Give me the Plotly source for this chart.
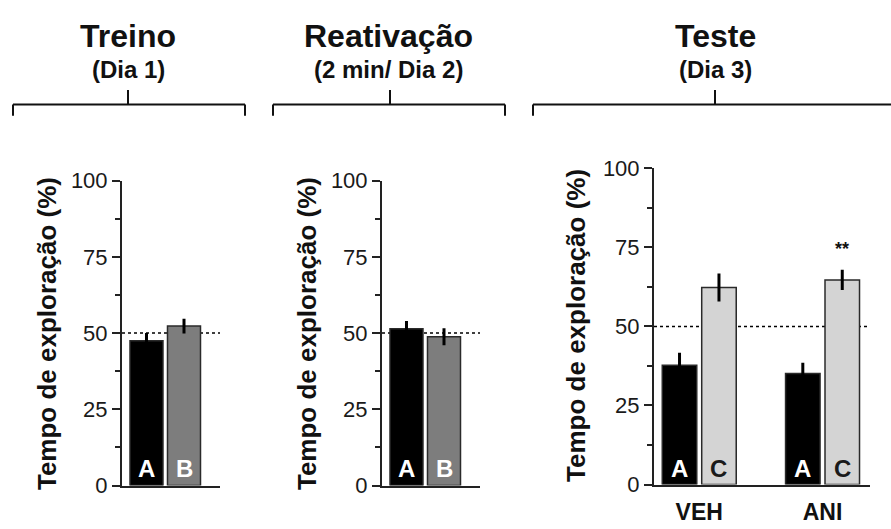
import plotly.graph_objects as go

W, H = 891, 529

# ---------------- data ----------------
p1_cats = ["A", "B"]
p1_vals = [47.5, 52.3]
p1_errs = [2.5, 2.4]

p2_cats = ["A", "B"]
p2_vals = [51.4, 48.8]
p2_errs = [2.6, 2.8]

p3_groups = ["VEH", "ANI"]
p3_A_vals = [37.7, 35.1]
p3_A_errs = [4.0, 3.4]
p3_C_vals = [62.3, 64.7]
p3_C_errs = [4.4, 3.2]
p3_series = ["A", "C"]

y_ticks = [0, 25, 50, 75, 100]
chance_level = 50
sig_text = "**"
sig_y = 74.6
label_y12 = 5.6
label_y3 = 5.0

headers = [("Treino", "(Dia 1)"), ("Reativação", "(2 min/ Dia 2)"), ("Teste", "(Dia 3)")]
ytitle = "Tempo de exploração (%)"

# ---------------- style ----------------
FONT = "Liberation Sans, Arial, Helvetica, sans-serif"
BLACK = "#000000"
GRAY = "#7d7d7d"
LIGHT = "#d4d4d4"
EDGE = "#2a2a2a"
AX = "#222222"

def px_x(p):
    return p / W

def px_y(p):
    return 1 - p / H

fig = go.Figure()

def bar_trace(x, y, err, color, xa, ya, width, offset=None):
    kw = dict(
        x=x, y=y,
        marker=dict(color=color, line=dict(color=EDGE, width=1.5)),
        error_y=dict(type="data", array=err, color="black", thickness=3, width=0),
        width=width, xaxis=xa, yaxis=ya, showlegend=False, hoverinfo="skip",
        cliponaxis=False,
    )
    if offset is not None:
        kw["offset"] = offset
    return go.Bar(**kw)

def letter(x, y, txt, color, xr, yr):
    fig.add_annotation(x=x, y=y, xref=xr, yref=yr, text=f"<b>{txt}</b>", showarrow=False,
                       font=dict(family=FONT, size=24, color=color),
                       xanchor="center", yanchor="middle")

w12 = 0.88
# Panel 1
for i, (cat, v, e, col) in enumerate(zip(p1_cats, p1_vals, p1_errs, [BLACK, GRAY])):
    fig.add_trace(bar_trace([cat], [v], [e], col, "x", "y", w12))
    letter(i, label_y12, cat, "white", "x", "y")
# Panel 2
for i, (cat, v, e, col) in enumerate(zip(p2_cats, p2_vals, p2_errs, [BLACK, GRAY])):
    fig.add_trace(bar_trace([cat], [v], [e], col, "x2", "y2", w12))
    letter(i, label_y12, cat, "white", "x2", "y2")
# Panel 3
bw3 = 0.28
offA, offC = -0.30, 0.02
fig.add_trace(bar_trace(p3_groups, p3_A_vals, p3_A_errs, BLACK, "x3", "y3", bw3, offA))
fig.add_trace(bar_trace(p3_groups, p3_C_vals, p3_C_errs, LIGHT, "x3", "y3", bw3, offC))
for gi in range(len(p3_groups)):
    letter(gi + offA + bw3 / 2, label_y3, p3_series[0], "white", "x3", "y3")
    letter(gi + offC + bw3 / 2, label_y3, p3_series[1], "#1a1a1a", "x3", "y3")

def yaxis_cfg(domain, anchor):
    return dict(
        domain=domain, anchor=anchor, range=[0, 100], tickvals=y_ticks,
        ticks="outside", ticklen=8, tickwidth=2, tickcolor=AX,
        showline=True, linewidth=2, linecolor=AX, showgrid=False, zeroline=False,
        tickfont=dict(family=FONT, size=22, color="#1a1a1a"),
        minor=dict(dtick=12.5, tick0=0, ticks="outside", ticklen=5, tickwidth=2, tickcolor=AX, showgrid=False),
        fixedrange=True,
    )

def xaxis_cfg(domain, anchor, rng, show_labels=False):
    return dict(
        domain=domain, anchor=anchor, range=rng, type="category",
        showline=True, linewidth=2, linecolor=AX, showgrid=False, zeroline=False,
        ticks="", showticklabels=show_labels,
        tickfont=dict(family=FONT, size=23, color="#111111", weight="bold"),
        ticklabelstandoff=6, fixedrange=True,
    )

yd12 = [px_y(497), px_y(177)]
yd3 = [px_y(496), px_y(164)]

fig.update_layout(
    width=W, height=H, margin=dict(l=0, r=0, t=0, b=0),
    paper_bgcolor="white", plot_bgcolor="rgba(0,0,0,0)",
    barmode="overlay",
    xaxis=xaxis_cfg([px_x(122), px_x(220)], "y", [-0.653, 1.96]),
    yaxis=yaxis_cfg(yd12, "x"),
    xaxis2=xaxis_cfg([px_x(382), px_x(480)], "y2", [-0.653, 1.96]),
    yaxis2=yaxis_cfg(yd12, "x2"),
    xaxis3=xaxis_cfg([px_x(654), px_x(870)], "y3", [-0.367, 1.385], show_labels=True),
    yaxis3=yaxis_cfg(yd3, "x3"),
)

# chance lines
for xr, yr in [("x", "y"), ("x2", "y2"), ("x3", "y3")]:
    fig.add_shape(type="line", xref=f"{xr} domain", yref=yr, x0=0, x1=1,
                  y0=chance_level, y1=chance_level, layer="below",
                  line=dict(color="black", width=1.5, dash="dot"))

# significance mark
fig.add_annotation(x=1 + offC + bw3 / 2, y=sig_y, xref="x3", yref="y3", text=f"<b>{sig_text}</b>",
                   showarrow=False, font=dict(family=FONT, size=18, color="#111111"),
                   xanchor="center", yanchor="middle")

# y-axis titles
for xc, yc in [(46.5, 337.5), (306.5, 337.5), (576.5, 329)]:
    fig.add_annotation(x=px_x(xc), y=px_y(yc), xref="paper", yref="paper",
                       text=f"<b>{ytitle}</b>", textangle=-90, showarrow=False,
                       font=dict(family=FONT, size=26, color="#111111"),
                       xanchor="center", yanchor="middle")

# headers and brackets
brackets = [(13, 245, 128), (273, 505, 390), (533, 897, 715)]
text_centers = [128, 388, 715]
for (title, sub), (l, r, c), tc in zip(headers, brackets, text_centers):
    fig.add_annotation(x=px_x(tc), y=px_y(25), xref="paper", yref="paper",
                       text=f"<b>{title}</b>", showarrow=False,
                       font=dict(family=FONT, size=32, color="#111111"),
                       xanchor="center", yanchor="middle")
    fig.add_annotation(x=px_x(tc), y=px_y(60.5), xref="paper", yref="paper",
                       text=f"<b>{sub}</b>", showarrow=False,
                       font=dict(family=FONT, size=24, color="#111111"),
                       xanchor="center", yanchor="middle")
    lw = dict(color="#111111", width=2)
    fig.add_shape(type="line", xref="paper", yref="paper", x0=px_x(l), x1=px_x(r),
                  y0=px_y(97), y1=px_y(97), line=lw)
    fig.add_shape(type="line", xref="paper", yref="paper", x0=px_x(l), x1=px_x(l),
                  y0=px_y(97), y1=px_y(109), line=lw)
    fig.add_shape(type="line", xref="paper", yref="paper", x0=px_x(r), x1=px_x(r),
                  y0=px_y(97), y1=px_y(109), line=lw)
    fig.add_shape(type="line", xref="paper", yref="paper", x0=px_x(c), x1=px_x(c),
                  y0=px_y(82), y1=px_y(97), line=lw)

fig.write_html("out.html")
